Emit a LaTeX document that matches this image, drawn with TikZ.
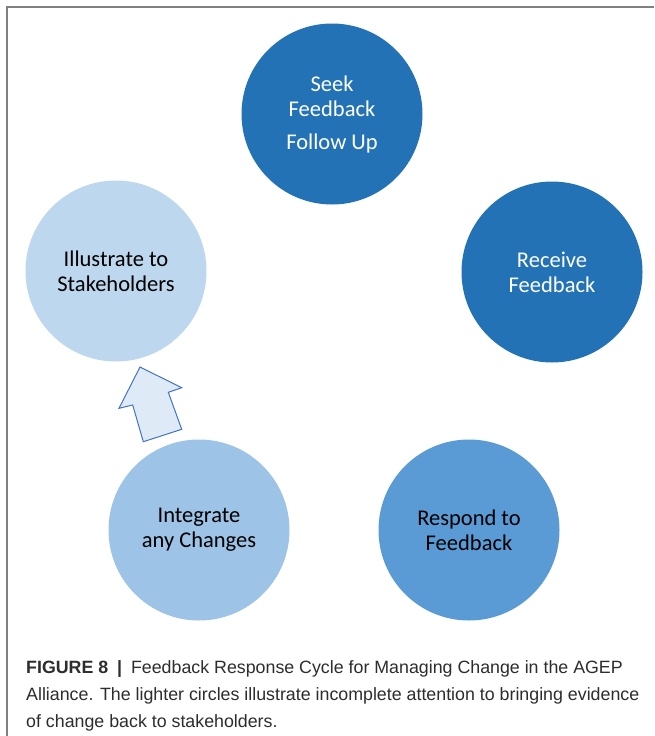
\documentclass[tikz,border=0pt]{standalone}
\usepackage{fontspec}
\setmainfont{Carlito}
\newfontfamily\capfont{Liberation Sans}
\definecolor{darkblue}{RGB}{35,114,182}
\definecolor{midblue}{RGB}{91,155,213}
\definecolor{lightblue}{RGB}{157,195,230}
\definecolor{paleblue}{RGB}{189,215,238}
\definecolor{arrowfill}{RGB}{222,235,247}
\definecolor{arrowline}{RGB}{68,114,196}
\definecolor{framegray}{RGB}{128,128,128}
\definecolor{captext}{RGB}{45,45,45}
\begin{document}
\begin{tikzpicture}[x=1pt,y=-1pt,
  stage/.style={circle, minimum size=181pt, inner sep=0pt, align=center,
    font=\fontsize{22.5}{25}\selectfont},
  captionline/.style={anchor=base west, inner sep=0pt,
    font=\capfont\fontsize{17.8}{27}\selectfont, text=captext},
  blockarrow/.style={draw=arrowline, fill=arrowfill, line width=1pt, line join=miter}]
\useasboundingbox (0,0) rectangle (654,736);
\fill[white] (0,0) rectangle (654,736);
\draw[framegray, line width=1.2pt] (7,736) -- (7,7) -- (654,7);

\node[stage, fill=darkblue, text=white] (seek) at (332,114) {Seek\\Feedback\\[8pt]Follow Up};
\node[stage, fill=darkblue, text=white] (receive) at (552,272) {Receive\\Feedback};
\node[stage, fill=midblue, text=black] (respond) at (469,530) {Respond to\\Feedback};
\node[stage, fill=lightblue, text=black] (integrate) at (199,530) {Integrate\\any Changes};
\node[stage, fill=paleblue, text=black] (illustrate) at (116,271) {Illustrate to\\Stakeholders};

\draw[blockarrow] (140,367) -- (181.7,387.7) -- (168.3,392.3) -- (181.7,429.3)
  -- (143.3,441.7) -- (132.7,405) -- (119,408.3) -- cycle;

\node[captionline] (cap1) at (26,673) {\textbf{FIGURE 8\enspace|\enspace}Feedback Response Cycle for Managing Change in the AGEP};
\node[captionline] (cap2) at (26,700) {Alliance. The lighter circles illustrate incomplete attention to bringing evidence};
\node[captionline] (cap3) at (26,727) {of change back to stakeholders.};
\end{tikzpicture}
\end{document}
